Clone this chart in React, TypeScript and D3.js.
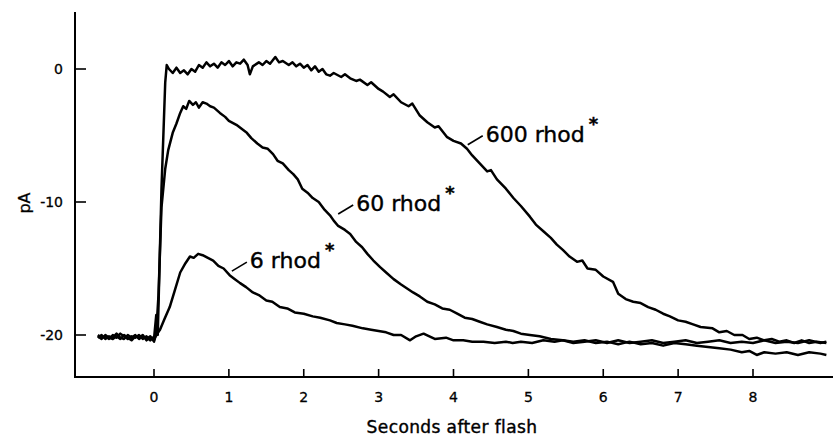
import React, { useEffect, useRef } from 'react'
import * as d3 from 'd3'

// photocurrent traces: [seconds after flash, pA]
const rhod600: [number, number][] = [
  [-0.75, -20.0], [-0.7, -20.2], [-0.65, -20.1], [-0.6, -20.3], [-0.55, -20.0], [-0.5, -20.2],
  [-0.45, -19.9], [-0.4, -20.1], [-0.35, -20.3], [-0.3, -20.1], [-0.25, -20.2], [-0.2, -20.0],
  [-0.15, -20.3], [-0.1, -20.1], [-0.05, -20.4], [-0.02, -20.2], [0.0, -20.3], [0.03, -18.5],
  [0.05, -20.0], [0.1, -9.0], [0.15, -1.0], [0.17, 0.3], [0.2, 0.0], [0.25, -0.3], [0.3, 0.1],
  [0.35, -0.3], [0.4, -0.1], [0.45, -0.4], [0.5, 0.0], [0.55, -0.2], [0.6, 0.3], [0.65, 0.1],
  [0.7, 0.5], [0.75, 0.2], [0.8, 0.4], [0.85, 0.1], [0.9, 0.5], [0.95, 0.3], [1.0, 0.6],
  [1.05, 0.2], [1.1, 0.5], [1.15, 0.4], [1.2, 0.7], [1.25, 0.3], [1.28, -0.4], [1.32, 0.2],
  [1.4, 0.5], [1.45, 0.3], [1.5, 0.6], [1.55, 0.4], [1.62, 0.9], [1.67, 0.5], [1.72, 0.6],
  [1.8, 0.3], [1.85, 0.5], [1.9, 0.2], [1.95, 0.4], [2.0, 0.1], [2.05, 0.3], [2.1, -0.1],
  [2.15, 0.2], [2.2, -0.2], [2.25, 0.0], [2.3, -0.4], [2.35, -0.5], [2.4, -0.3], [2.5, -0.6],
  [2.55, -0.4], [2.62, -0.7], [2.7, -0.9], [2.75, -0.8], [2.85, -1.2], [2.9, -1.0], [3.0, -1.5],
  [3.06, -1.7], [3.15, -2.1], [3.2, -1.9], [3.3, -2.5], [3.4, -2.8], [3.45, -2.6], [3.55, -3.5],
  [3.65, -4.0], [3.75, -4.4], [3.8, -4.3], [3.91, -5.1], [4.0, -5.4], [4.1, -5.6], [4.18, -6.0],
  [4.25, -6.5], [4.35, -7.1], [4.45, -7.7], [4.5, -7.6], [4.58, -8.3], [4.7, -9.0], [4.8, -9.7],
  [4.9, -10.3], [5.02, -11.1], [5.1, -11.7], [5.2, -12.2], [5.3, -12.7], [5.38, -13.2],
  [5.46, -13.6], [5.55, -14.1], [5.65, -14.5], [5.72, -14.4], [5.79, -15.0], [5.9, -15.1],
  [6.0, -15.6], [6.13, -16.0], [6.2, -16.9], [6.3, -17.3], [6.4, -17.5], [6.5, -17.6],
  [6.6, -17.9], [6.7, -18.1], [6.8, -18.4], [6.89, -18.6], [7.0, -18.9], [7.1, -19.0],
  [7.2, -19.2], [7.3, -19.4], [7.46, -19.5], [7.55, -19.8], [7.65, -19.7], [7.75, -20.0],
  [7.86, -20.0], [7.95, -20.3], [8.05, -20.2], [8.15, -20.4], [8.25, -20.3], [8.35, -20.5],
  [8.45, -20.4], [8.55, -20.6], [8.65, -20.4], [8.75, -20.6], [8.85, -20.5], [8.98, -20.6]
]

const rhod60: [number, number][] = [
  [-0.75, -20.2], [-0.7, -20.0], [-0.65, -20.3], [-0.6, -20.1], [-0.55, -20.2], [-0.5, -19.9],
  [-0.45, -20.2], [-0.4, -20.3], [-0.35, -20.0], [-0.3, -20.2], [-0.25, -20.0], [-0.2, -20.3],
  [-0.15, -20.1], [-0.1, -20.3], [-0.05, -20.1], [0.0, -20.5], [0.03, -19.8], [0.06, -17.0],
  [0.1, -10.4], [0.15, -7.5], [0.19, -6.1], [0.25, -4.8], [0.3, -4.1], [0.35, -3.3],
  [0.39, -2.8], [0.43, -3.0], [0.47, -2.4], [0.52, -2.7], [0.56, -2.5], [0.6, -2.9],
  [0.65, -2.5], [0.7, -2.6], [0.75, -2.8], [0.8, -2.9], [0.88, -3.3], [0.95, -3.6], [1.0, -3.9],
  [1.1, -4.2], [1.17, -4.5], [1.24, -4.8], [1.3, -5.2], [1.38, -5.6], [1.45, -5.9], [1.52, -6.0],
  [1.59, -6.4], [1.65, -6.9], [1.72, -7.1], [1.8, -7.6], [1.86, -7.9], [1.92, -8.3], [1.98, -9.0],
  [2.05, -9.3], [2.12, -9.7], [2.2, -10.0], [2.28, -10.6], [2.35, -11.0], [2.4, -11.4],
  [2.46, -11.8], [2.55, -12.1], [2.62, -12.4], [2.7, -13.0], [2.78, -13.4], [2.85, -13.9],
  [2.93, -14.4], [3.02, -14.9], [3.1, -15.3], [3.2, -15.8], [3.3, -16.2], [3.38, -16.5],
  [3.46, -16.8], [3.55, -17.1], [3.65, -17.5], [3.75, -17.7], [3.85, -18.0], [3.95, -18.1],
  [4.05, -18.4], [4.15, -18.7], [4.25, -18.8], [4.35, -19.0], [4.45, -19.2], [4.58, -19.4],
  [4.7, -19.6], [4.8, -19.7], [4.9, -19.9], [5.02, -20.0], [5.15, -20.1], [5.3, -20.3],
  [5.46, -20.4], [5.6, -20.5], [5.75, -20.4], [5.9, -20.6], [6.05, -20.5], [6.2, -20.7],
  [6.35, -20.5], [6.5, -20.7], [6.65, -20.6], [6.8, -20.8], [6.95, -20.6], [7.1, -20.7],
  [7.25, -20.8], [7.4, -20.9], [7.55, -21.0], [7.7, -21.1], [7.85, -21.3], [7.95, -21.2],
  [8.05, -21.5], [8.15, -21.3], [8.3, -21.4], [8.45, -21.3], [8.6, -21.5], [8.75, -21.3],
  [8.9, -21.4], [8.98, -21.5]
]

const rhod6: [number, number][] = [
  [-0.75, -20.1], [-0.7, -20.3], [-0.65, -20.0], [-0.6, -20.2], [-0.55, -20.3], [-0.5, -20.1],
  [-0.45, -20.3], [-0.4, -20.0], [-0.35, -20.2], [-0.3, -20.4], [-0.25, -20.1], [-0.2, -20.2],
  [-0.15, -20.0], [-0.1, -20.4], [-0.05, -20.2], [0.0, -20.4], [0.03, -20.0], [0.08, -19.6],
  [0.14, -18.8], [0.21, -17.9], [0.28, -16.6], [0.35, -15.3], [0.42, -14.6], [0.48, -14.1],
  [0.53, -14.2], [0.59, -13.9], [0.65, -14.0], [0.72, -14.2], [0.79, -14.4], [0.86, -14.8],
  [0.93, -15.0], [1.01, -15.5], [1.08, -15.8], [1.15, -16.1], [1.23, -16.4], [1.32, -16.8],
  [1.4, -17.0], [1.5, -17.4], [1.58, -17.5], [1.68, -17.9], [1.78, -18.0], [1.88, -18.3],
  [2.0, -18.4], [2.12, -18.6], [2.22, -18.7], [2.35, -18.9], [2.44, -19.1], [2.55, -19.2],
  [2.65, -19.3], [2.79, -19.5], [2.9, -19.6], [3.0, -19.7], [3.1, -19.8], [3.2, -20.0],
  [3.3, -20.0], [3.42, -20.4], [3.5, -20.1], [3.6, -19.9], [3.75, -20.3], [3.9, -20.2],
  [4.0, -20.4], [4.13, -20.4], [4.25, -20.5], [4.4, -20.5], [4.55, -20.6], [4.7, -20.5],
  [4.79, -20.6], [4.9, -20.5], [5.05, -20.6], [5.2, -20.4], [5.35, -20.5], [5.46, -20.4],
  [5.6, -20.6], [5.75, -20.5], [5.9, -20.4], [6.05, -20.6], [6.2, -20.4], [6.35, -20.6],
  [6.5, -20.5], [6.65, -20.4], [6.8, -20.6], [6.95, -20.5], [7.1, -20.4], [7.25, -20.6],
  [7.4, -20.5], [7.55, -20.4], [7.7, -20.6], [7.85, -20.5], [8.0, -20.6], [8.15, -20.4],
  [8.3, -20.6], [8.45, -20.5], [8.6, -20.6], [8.75, -20.4], [8.9, -20.6], [8.98, -20.5]
]

const xTicks = [0, 1, 2, 3, 4, 5, 6, 7, 8]
const yTicks = [0, -10, -20]

// label text + where its leader line touches the trace (data units)
const traceLabels = [
  { text: '600 rhod', t: 4.19, pA: -5.7 },
  { text: '60 rhod', t: 2.46, pA: -10.9 },
  { text: '6 rhod', t: 1.04, pA: -15.2 }
]

const WIDTH = 833
const HEIGHT = 437
const FONT = '"DejaVu Sans", sans-serif'

const App = () => {
  const ref = useRef<SVGSVGElement>(null)

  useEffect(() => {
    const svg = d3.select(ref.current)
    svg.selectAll('*').remove()

    const x = d3.scaleLinear().domain([0, 8]).range([154, 753])
    const y = d3.scaleLinear().domain([0, -20]).range([69, 335])

    const axisX = 75
    const axisY = 377

    // axes
    svg.append('line')
      .attr('x1', axisX).attr('x2', axisX).attr('y1', 12).attr('y2', axisY + 1)
      .attr('stroke', '#000').attr('stroke-width', 2)
    svg.append('line')
      .attr('x1', axisX - 1).attr('x2', WIDTH).attr('y1', axisY).attr('y2', axisY)
      .attr('stroke', '#000').attr('stroke-width', 2)

    svg.selectAll('.xtick')
        .data(xTicks)
      .enter().append('line')
        .attr('class', 'xtick')
        .attr('x1', (d) => x(d)).attr('x2', (d) => x(d))
        .attr('y1', axisY).attr('y2', axisY - 8)
        .attr('stroke', '#000').attr('stroke-width', 1.6)

    svg.selectAll('.xlabel')
        .data(xTicks)
      .enter().append('text')
        .attr('class', 'xlabel')
        .attr('x', (d) => x(d)).attr('y', 402)
        .attr('text-anchor', 'middle')
        .attr('font-family', FONT).attr('font-size', 14)
        .attr('fill', '#000').attr('stroke', '#000').attr('stroke-width', 0.3)
        .text((d) => String(d))

    svg.selectAll('.ytick')
        .data(yTicks)
      .enter().append('line')
        .attr('class', 'ytick')
        .attr('x1', axisX).attr('x2', axisX + 11)
        .attr('y1', (d) => y(d)).attr('y2', (d) => y(d))
        .attr('stroke', '#000').attr('stroke-width', 1.6)

    svg.selectAll('.ylabel')
        .data(yTicks)
      .enter().append('text')
        .attr('class', 'ylabel')
        .attr('x', 63).attr('y', (d) => y(d) + 5)
        .attr('text-anchor', 'end')
        .attr('font-family', FONT).attr('font-size', 14)
        .attr('fill', '#000').attr('stroke', '#000').attr('stroke-width', 0.3)
        .text((d) => String(d))

    svg.append('text')
      .attr('transform', 'translate(30,203) rotate(-90)')
      .attr('text-anchor', 'middle')
      .attr('font-family', FONT).attr('font-size', 16)
      .attr('fill', '#000').attr('stroke', '#000').attr('stroke-width', 0.3)
      .text('pA')

    svg.append('text')
      .attr('x', 452).attr('y', 433)
      .attr('text-anchor', 'middle')
      .attr('font-family', FONT).attr('font-size', 17)
      .attr('letter-spacing', 0.4)
      .attr('fill', '#000').attr('stroke', '#000').attr('stroke-width', 0.4)
      .text('Seconds after flash')

    // traces
    const line = d3.line<[number, number]>()
      .x((d) => x(d[0]))
      .y((d) => y(d[1]))

    svg.selectAll('.trace')
        .data([rhod600, rhod60, rhod6])
      .enter().append('path')
        .attr('class', 'trace')
        .attr('d', (d) => line(d))
        .attr('fill', 'none')
        .attr('stroke', '#000')
        .attr('stroke-width', 2.5)
        .attr('stroke-linejoin', 'round')

    // labels with leader lines
    const labels = svg.selectAll('.label')
        .data(traceLabels)
      .enter().append('g')
        .attr('class', 'label')
        .attr('transform', (d) => 'translate(' + x(d.t) + ',' + y(d.pA) + ')')

    labels.append('line')
      .attr('x1', 0).attr('y1', 0).attr('x2', 15).attr('y2', -9)
      .attr('stroke', '#000').attr('stroke-width', 1.6)

    const txt = labels.append('text')
      .attr('x', 18).attr('y', -3)
      .attr('font-family', FONT).attr('font-size', 22)
      .attr('fill', '#000').attr('stroke', '#000').attr('stroke-width', 0.4)
    txt.append('tspan').text((d) => d.text)
    txt.append('tspan')
      .attr('dx', 4).attr('dy', -12)
      .attr('font-size', 18).attr('font-weight', 'bold')
      .text('*')
  }, [])

  return (
    <svg
      ref={ref}
      width={WIDTH}
      height={HEIGHT}
      style={{ position: 'absolute', left: 0, top: 0, background: '#fff' }}
    />
  )
}

export default App
